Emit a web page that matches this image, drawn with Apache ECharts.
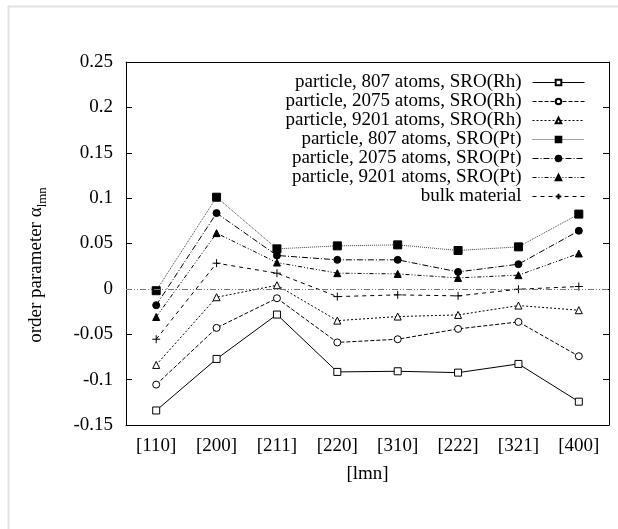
<!DOCTYPE html>
<html><head><meta charset="utf-8">
<script src="https://cdn.jsdelivr.net/npm/echarts@6/dist/echarts.min.js"></script>
<style>html,body{margin:0;padding:0;background:#fff}#c{width:618px;height:529px}</style>
</head><body><div id="c"></div>
<script>
const categories = ['[110]','[200]','[211]','[220]','[310]','[222]','[321]','[400]'];
const rh807  = [-0.134, -0.0772, -0.0283, -0.0915, -0.0908, -0.0923, -0.0827, -0.1243];
const rh2075 = [-0.1055, -0.043, -0.0103, -0.059, -0.0555, -0.0441, -0.0364, -0.0742];
const rh9201 = [-0.0838, -0.0092, 0.004, -0.035, -0.0305, -0.0287, -0.0184, -0.0235];
const pt807  = [-0.002, 0.101, 0.0441, 0.0474, 0.0485, 0.0423, 0.0463, 0.0824];
const pt2075 = [-0.018, 0.0835, 0.0368, 0.032, 0.032, 0.0187, 0.0272, 0.064];
const pt9201 = [-0.031, 0.0614, 0.029, 0.0173, 0.0165, 0.0121, 0.0151, 0.039];
const bulk   = [-0.0555, 0.0283, 0.0173, -0.0085, -0.0066, -0.0077, -0.0004, 0.0026];
const names = ['particle, 807 atoms, SRO(Rh)','particle, 2075 atoms, SRO(Rh)','particle, 9201 atoms, SRO(Rh)',
  'particle, 807 atoms, SRO(Pt)','particle, 2075 atoms, SRO(Pt)','particle, 9201 atoms, SRO(Pt)','bulk material'];
const yMin = -0.15, yMax = 0.25, yStep = 0.05;

const FONT = 'Liberation Serif';
const FS = 19;
const chart = echarts.init(document.getElementById('c'), null, {renderer:'canvas'});
const PLUS = 'path://M0,-1L0,1M-1,0L1,0';
function mk(name, data, symbol, size, fill, dash, color, extra) {
  return Object.assign({
    name, type:'line', data, symbol, symbolSize:size, showSymbol:true,
    xAxisIndex:0, yAxisIndex:0, animation:false,
    lineStyle:{color: color||'#000', width:1, type:dash},
    itemStyle:{color: fill, borderColor:'#000', borderWidth:1}
  }, extra||{});
}
const series = [
  mk(names[0], rh807, 'rect', 7, '#fff', 'solid', '#000', {
    markLine:{silent:true, symbol:['none','none'], label:{show:false},
      lineStyle:{color:'#777', width:1, type:[6,2,1,2,1,2]}, data:[{yAxis:0}]}
  }),
  mk(names[1], rh2075, 'circle', 7, '#fff', [4,2]),
  mk(names[2], rh9201, 'triangle', 7, '#fff', [2,2]),
  mk(names[3], pt807, 'rect', 8, '#000', [1,1], '#444'),
  mk(names[4], pt2075, 'circle', 7, '#000', [6,2,1,2]),
  mk(names[5], pt9201, 'triangle', 7, '#000', [4,2,1,2,1,2]),
  mk(names[6], bulk, PLUS, 8, '#000', [4,4])
];

const labelStyle = {fontFamily:FONT, fontSize:FS, color:'#000'};
chart.setOption({
  backgroundColor:'#fff',
  animation:false,
  grid:{left:126, right:9, top:62, bottom:104, containLabel:false},
  legend:{
    data:names, orient:'vertical', align:'right', right:28, top:68,
    itemWidth:52, itemHeight:7, itemGap:0,
    lineStyle:{width:1},
    textStyle:{fontFamily:FONT, fontSize:FS, color:'#000', lineHeight:19, padding:[0,6,0,0]},
    selectedMode:false
  },
  xAxis:[
    {type:'category', data:categories, position:'bottom', boundaryGap:true,
     axisLine:{onZero:false, lineStyle:{color:'#000', width:1}},
     axisTick:{inside:true, alignWithLabel:true, length:6, lineStyle:{color:'#000'}},
     axisLabel:Object.assign({margin:12}, labelStyle),
     name:'[lmn]', nameLocation:'middle', nameGap:40,
     nameTextStyle:{fontFamily:FONT, fontSize:FS, color:'#000'},
     splitLine:{show:false}},
    {type:'category', data:categories, position:'top', boundaryGap:true,
     axisLine:{onZero:false, lineStyle:{color:'#000', width:1}},
     axisTick:{inside:true, alignWithLabel:true, length:6, lineStyle:{color:'#000'}},
     axisLabel:{show:false}, splitLine:{show:false}}
  ],
  yAxis:[
    {type:'value', min:yMin, max:yMax, interval:yStep, position:'left',
     axisLine:{show:true, onZero:false, lineStyle:{color:'#000', width:1}},
     axisTick:{show:true, inside:true, length:6, lineStyle:{color:'#000'}},
     axisLabel:Object.assign({margin:13, formatter:v=>String(parseFloat(v.toFixed(2)))}, labelStyle),
     splitLine:{show:false}},
    {type:'value', min:yMin, max:yMax, interval:yStep, position:'right',
     axisLine:{show:true, onZero:false, lineStyle:{color:'#000', width:1}},
     axisTick:{show:true, inside:true, length:6, lineStyle:{color:'#000'}},
     axisLabel:{show:false}, splitLine:{show:false}}
  ],
  graphic:[
    {type:'line', shape:{x1:8, y1:6.5, x2:618, y2:6.5}, style:{stroke:'#e2e2e2', lineWidth:2}, silent:true},
    {type:'line', shape:{x1:8.5, y1:6, x2:8.5, y2:529}, style:{stroke:'#e2e2e2', lineWidth:2}, silent:true},
    {type:'text', x:36, y:265, rotation:Math.PI/2,
     style:{text:'{a|order parameter α}{s|lmn}', align:'center', verticalAlign:'middle',
       rich:{a:{fontFamily:FONT, fontSize:FS, fill:'#000', verticalAlign:'bottom'},
             s:{fontFamily:FONT, fontSize:13, fill:'#000', verticalAlign:'bottom', padding:[0,0,-4,0]}}}}
  ],
  series
});
</script></body></html>
